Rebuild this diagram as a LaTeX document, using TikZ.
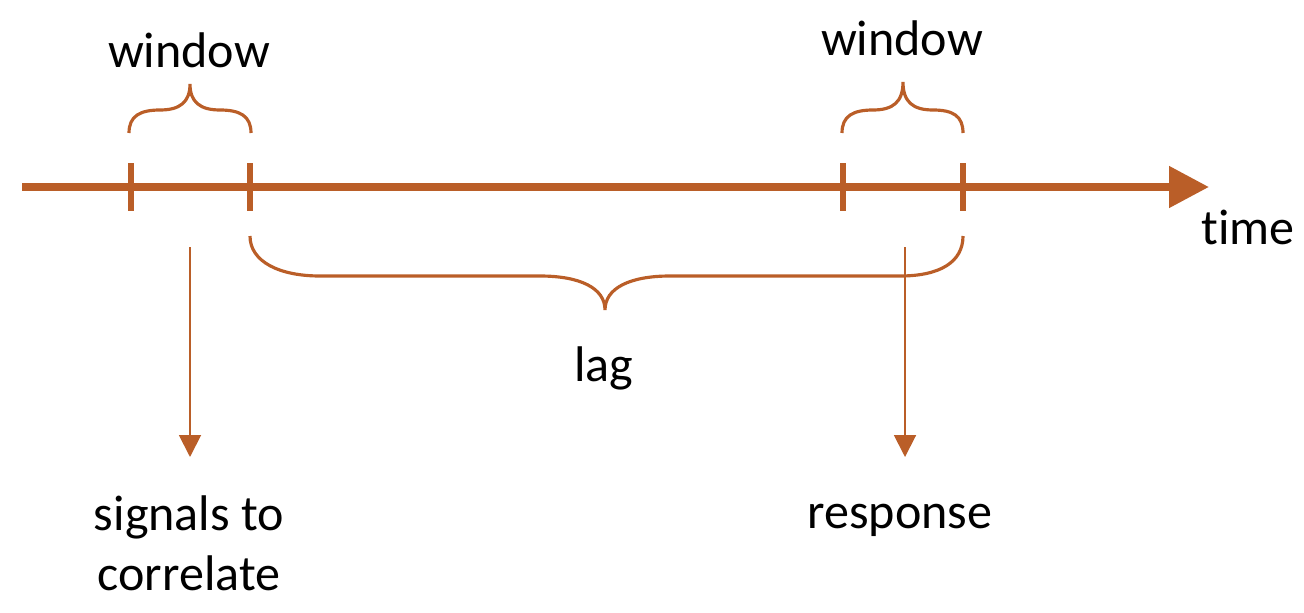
\documentclass[tikz,border=0pt]{standalone}
\usepackage{fontspec}
\setmainfont{Carlito}[Ligatures={NoCommon,NoRare,NoContextual}]
\usetikzlibrary{arrows.meta}
\definecolor{rust}{RGB}{186,94,40}
\begin{document}
\begin{tikzpicture}[x=0.02cm,y=-0.02cm,
  axis/.style={draw=rust,line width=4.5pt,-{Triangle[length=22.7pt,width=22.7pt]}},
  tickmark/.style={draw=rust,line width=3.4pt},
  bracepath/.style={draw=rust,line width=1.8pt},
  pointer/.style={draw=rust,line width=1.1pt,-{Triangle[length=12.5pt,width=12.5pt]}},
  lbl/.style={inner sep=0pt,font=\fontsize{28.5pt}{34pt}\selectfont,text=black,align=center}]
\useasboundingbox (0,0) rectangle (1304,612);
% axis
\coordinate (t0) at (22,187);
\coordinate (t1) at (1209,187);
\draw[axis] (t0) -- (t1);
% ticks
\foreach \x/\n in {131/a,250/b,843/c,963/d}{
  \coordinate (k\n top) at (\x,163);
  \coordinate (k\n bot) at (\x,211);
  \draw[tickmark] (k\n top) -- (k\n bot);
}
% top left brace
\draw[bracepath] (129,133) .. controls (129,116) and (140,110) .. (160,110)
  .. controls (180,110) and (190,102) .. (190,84)
  .. controls (190,102) and (200,110) .. (220,110)
  .. controls (240,110) and (251,116) .. (251,133);
% top right brace
\draw[bracepath] (842,133) .. controls (842,116) and (853,110) .. (873,110)
  .. controls (893,110) and (903,102) .. (903,82)
  .. controls (903,102) and (913,110) .. (933,110)
  .. controls (953,110) and (963,116) .. (963,133);
% bottom brace
\draw[bracepath] (250,236) .. controls (250,262) and (280,276) .. (320,276)
  -- (540,276) .. controls (580,276) and (605,288) .. (605,310)
  .. controls (605,288) and (630,276) .. (670,276)
  -- (900,276) .. controls (940,276) and (963,262) .. (963,236);
% labels
\node[lbl,anchor=base] (w1) at (189,67) {window};
\node[lbl,anchor=base] (w2) at (902,55) {window};
\node[lbl,anchor=base] (time) at (1248,244) {time};
\node[lbl,anchor=base] (lag) at (604,381) {lag};
\node[lbl,anchor=base] (sig) at (189,590) {signals to\\correlate};
\node[lbl,anchor=base] (resp) at (900,528) {response};
% pointers
\coordinate (p1s) at (190,247);
\coordinate (p1e) at (190,457);
\coordinate (p2s) at (905,247);
\coordinate (p2e) at (905,457);
\draw[pointer] (p1s) -- (p1e);
\draw[pointer] (p2s) -- (p2e);
\end{tikzpicture}
\end{document}
